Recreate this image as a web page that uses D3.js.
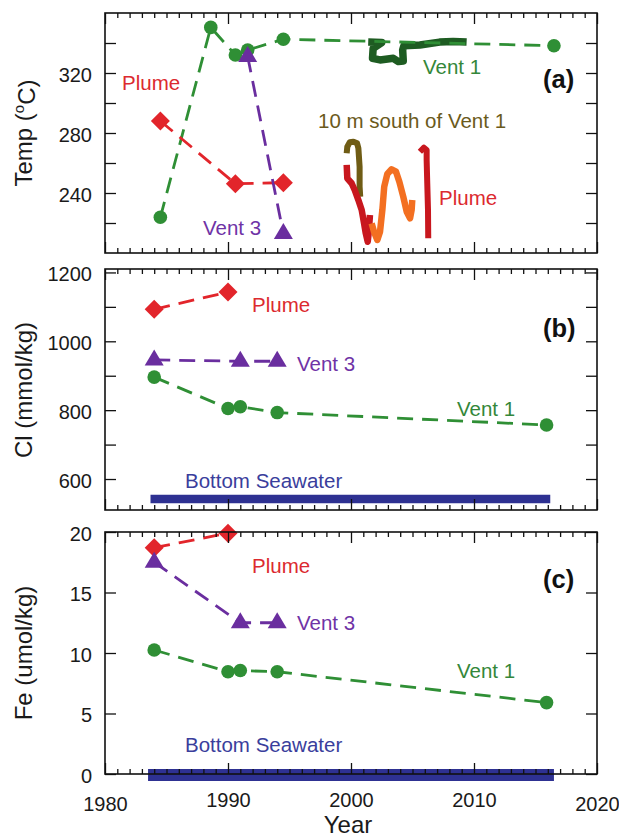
<!DOCTYPE html>
<html><head><meta charset="utf-8">
<script src="https://cdn.jsdelivr.net/npm/d3@7"></script>
<style>
body{margin:0;background:#fff}
svg{display:block}
text{font-family:"Liberation Sans",Arial,sans-serif}
</style>
</head><body>
<svg id="chart" width="619" height="838"></svg>
<script>
// ---------------- DATA ----------------
// Panel (a) Temperature, discrete samples
const tempVent1Years = [1984.5, 1988.6, 1990.6, 1991.6, 1994.5, 2016.5];
const tempVent1 = [223.8, 350.4, 332.0, 335.3, 342.5, 338.2];
const tempPlumeYears = [1984.5, 1990.6, 1994.5];
const tempPlume = [288.0, 246.2, 246.9];
const tempVent3Years = [1991.6, 1994.5];
const tempVent3 = [331, 213];
// Panel (a) continuous records [year, temp]
const recVent1 = [[2001.4,340.6],[2002.5,340.3],[2001.8,336.4],[2001.75,329.8],[2002.36,328.7],[2003.44,329.8],[2003.85,327.6],[2004.25,328],[2004.2,335.3],[2004.3,338.2],[2005.6,338.7],[2007.2,340.6],[2008.3,341.0],[2009.4,340.6]];
const recSouth = [[1999.65,266.5],[1999.7,270.9],[1999.9,273.8],[2000.2,274.2],[2000.5,273.1],[2000.6,269.8],[2000.7,257.5],[2000.7,244.2],[2000.75,237.5]];
const recPlume1 = [[1999.65,258.7],[1999.7,249.8],[2000.05,246.5],[2000.3,242],[2000.6,235.3],[2000.87,228.7],[2001.06,219.8],[2001.2,213.1],[2001.36,207.5],[2001.46,215.3],[2001.54,225.3]];
const recOrange = [[2001.68,219.8],[2001.87,214.2],[2002.14,208.7],[2002.36,214.2],[2002.55,228.7],[2002.7,244.2],[2002.95,252.7],[2003.3,255.8],[2003.66,254.2],[2003.93,247.5],[2004.25,237.5],[2004.53,227.5],[2004.8,223.1],[2004.93,228.7],[2004.98,235.3]];
const recPlume2 = [[2005.6,267.5],[2005.93,270.2],[2006.15,268.7],[2006.15,262],[2006.2,246.5],[2006.26,228.7],[2006.28,209.8]];
// Panel (b) Cl
const clVent1Years = [1984.0, 1990.0, 1991.0, 1994.0, 2015.9];
const clVent1 = [896, 805, 810, 793, 757];
const clPlumeYears = [1984.0, 1990.0];
const clPlume = [1093, 1143];
const clVent3Years = [1984.0, 1991.0, 1994.0];
const clVent3 = [946, 942, 942];
const clSeawaterYears = [1983.7, 2016.2];
const clSeawater = 542;
// Panel (c) Fe
const feVent1Years = [1984.0, 1990.0, 1991.0, 1994.0, 2015.9];
const feVent1 = [10.25, 8.45, 8.55, 8.45, 5.9];
const fePlumeYears = [1984.0, 1990.0];
const fePlume = [18.7, 19.9];
const feVent3Years = [1984.0, 1991.0, 1994.0];
const feVent3 = [17.5, 12.5, 12.5];
const feSeawaterYears = [1983.5, 2016.5];
const feSeawater = 0;
// ticks
const yearMajorTicks = [1980, 1990, 2000, 2010, 2020];
const tempTicks = [220, 240, 260, 280, 300, 320, 340];
const tempLabels = [240, 280, 320];
const clTicks = [600, 700, 800, 900, 1000, 1100, 1200];
const clLabels = [600, 800, 1000, 1200];
const feTicks = [0, 5, 10, 15, 20];
const feLabels = [0, 5, 10, 15, 20];

// ---------------- STYLE ----------------
const C = {
  green: "#2f8f35", darkGreen: "#1e5c22", red: "#e2252b", redRec: "#c8171e",
  orange: "#f36f21", olive: "#6f5c15", purple: "#6a2e9f", navy: "#2e3192",
  greenText: "#34873a", redText: "#dc2a2f", purpleText: "#6f33a6", navyText: "#3a3e9c", oliveText: "#6b5a1c"
};
const LBL = 20.5;

const svg = d3.select("#chart");
const x = d3.scaleLinear().domain([1980, 2020]).range([105, 597]);
const panels = {
  a: {top: 13, bottom: 253, domain: [200, 360]},
  b: {top: 269, bottom: 510, domain: [510, 1210]},
  c: {top: 532, bottom: 774, domain: [0, 20]}
};
for (const k in panels) {
  const p = panels[k];
  p.y = d3.scaleLinear().domain(p.domain).range([p.bottom, p.top]);
}

const dash = "16,9";
function dashedLine(g, xs, ys, y, color) {
  const line = d3.line().x(d => x(d[0])).y(d => y(d[1]));
  g.append("path").datum(xs.map((v, i) => [v, ys[i]]))
    .attr("d", line).attr("fill", "none").attr("stroke", color)
    .attr("stroke-width", 2.8).attr("stroke-dasharray", dash);
}
function recLine(g, data, y, color, w) {
  const line = d3.line().x(d => x(d[0])).y(d => y(d[1]));
  g.append("path").datum(data).attr("d", line).attr("fill", "none")
    .attr("stroke", color).attr("stroke-width", w || 6)
    .attr("stroke-linejoin", "round").attr("stroke-linecap", "butt");
}
function circles(g, xs, ys, y, color) {
  g.selectAll(null).data(xs.map((v, i) => [v, ys[i]])).join("circle")
    .attr("cx", d => x(d[0])).attr("cy", d => y(d[1])).attr("r", 6.8).attr("fill", color);
}
function diamonds(g, xs, ys, y, color) {
  g.selectAll(null).data(xs.map((v, i) => [v, ys[i]])).join("path")
    .attr("transform", d => `translate(${x(d[0])},${y(d[1])})`)
    .attr("d", "M0,-9.5L9.5,0L0,9.5L-9.5,0Z").attr("fill", color);
}
function triangles(g, xs, ys, y, color) {
  g.selectAll(null).data(xs.map((v, i) => [v, ys[i]])).join("path")
    .attr("transform", d => `translate(${x(d[0])},${y(d[1])})`)
    .attr("d", "M0,-10.5L9.5,5.5L-9.5,5.5Z").attr("fill", color);
}
function label(g, txt, tx, ty, color, size, weight) {
  g.append("text").attr("x", tx).attr("y", ty).attr("fill", color)
    .attr("font-size", size).attr("font-weight", weight || "normal").text(txt);
}

function axes(p, ticks, labels, showYears) {
  const g = svg.append("g");
  const minor = d3.range(1981, 2020).filter(v => v % 10 !== 0);
  g.append("g").attr("transform", `translate(0,${p.bottom})`)
    .call(d3.axisBottom(x).tickValues(minor).tickSize(-5).tickFormat(""));
  const bMajor = g.append("g").attr("transform", `translate(0,${p.bottom})`)
    .call(d3.axisBottom(x).tickValues(yearMajorTicks).tickSize(-11).tickPadding(18)
      .tickFormat(showYears ? d3.format("d") : ""));
  g.append("g").attr("transform", `translate(0,${p.top})`)
    .call(d3.axisTop(x).tickValues(minor).tickSize(-5).tickFormat(""));
  g.append("g").attr("transform", `translate(0,${p.top})`)
    .call(d3.axisTop(x).tickValues(yearMajorTicks).tickSize(-11).tickFormat(""));
  g.append("g").attr("transform", `translate(105,0)`)
    .call(d3.axisLeft(p.y).tickValues(ticks).tickSize(-11).tickPadding(13)
      .tickFormat(d => labels.includes(d) ? d : ""));
  g.append("g").attr("transform", `translate(597,0)`)
    .call(d3.axisRight(p.y).tickValues(ticks).tickSize(-11).tickFormat(""));
  g.selectAll(".domain").remove();
  g.selectAll(".tick line").attr("stroke", "#111").attr("stroke-width", 1.3);
  g.selectAll(".tick text").attr("fill", "#1a1a1a").attr("font-size", 20)
    .attr("dy", "0.42em")
    .attr("font-family", '"Liberation Sans",Arial,sans-serif');
  if (showYears) {
    bMajor.selectAll(".tick text")
      .attr("dy", d => (d === 1980 || d === 2020) ? "0.95em" : "0.75em");
  }
  g.append("rect").attr("x", 105).attr("y", p.top).attr("width", 492)
    .attr("height", p.bottom - p.top).attr("fill", "none")
    .attr("stroke", "#111").attr("stroke-width", 1.6);
  return g;
}

// ---------------- PANEL (a) ----------------
{
  const p = panels.a, y = p.y, g = svg.append("g");
  recLine(g, recSouth, y, C.olive, 6);
  recLine(g, recPlume1, y, C.redRec, 6.5);
  recLine(g, recOrange, y, C.orange, 6.5);
  recLine(g, recPlume2, y, C.redRec, 6);
  recLine(g, recVent1, y, C.darkGreen, 7.5);
  dashedLine(g, tempVent1Years, tempVent1, y, C.green);
  dashedLine(g, tempPlumeYears, tempPlume, y, C.red);
  dashedLine(g, tempVent3Years, tempVent3, y, C.purple);
  circles(g, tempVent1Years, tempVent1, y, C.green);
  diamonds(g, tempPlumeYears, tempPlume, y, C.red);
  triangles(g, tempVent3Years, tempVent3, y, C.purple);
  label(g, "Plume", 122, 90, C.redText, LBL);
  label(g, "Vent 1", 423, 74, C.greenText, LBL);
  label(g, "10 m south of Vent 1", 318, 128, C.oliveText, LBL);
  label(g, "Plume", 439, 205, C.redText, LBL);
  label(g, "Vent 3", 203, 235, C.purpleText, LBL);
  label(g, "(a)", 543, 88, "#111", 25.5, "bold");
  axes(p, tempTicks, tempLabels, false);
}
// ---------------- PANEL (b) ----------------
{
  const p = panels.b, y = p.y, g = svg.append("g");
  g.append("line").attr("x1", x(clSeawaterYears[0])).attr("x2", x(clSeawaterYears[1]))
    .attr("y1", y(clSeawater)).attr("y2", y(clSeawater))
    .attr("stroke", C.navy).attr("stroke-width", 8.5);
  dashedLine(g, clVent1Years, clVent1, y, C.green);
  dashedLine(g, clPlumeYears, clPlume, y, C.red);
  dashedLine(g, clVent3Years, clVent3, y, C.purple);
  circles(g, clVent1Years, clVent1, y, C.green);
  diamonds(g, clPlumeYears, clPlume, y, C.red);
  triangles(g, clVent3Years, clVent3, y, C.purple);
  label(g, "Plume", 252, 312, C.redText, LBL);
  label(g, "Vent 3", 297, 371, C.purpleText, LBL);
  label(g, "Vent 1", 457, 416, C.greenText, LBL);
  label(g, "Bottom Seawater", 185, 488, C.navyText, LBL);
  label(g, "(b)", 543, 337, "#111", 25.5, "bold");
  axes(p, clTicks, clLabels, false);
}
// ---------------- PANEL (c) ----------------
{
  const p = panels.c, y = p.y, g = svg.append("g");
  g.append("line").attr("x1", x(feSeawaterYears[0])).attr("x2", x(feSeawaterYears[1]))
    .attr("y1", y(feSeawater) + 1).attr("y2", y(feSeawater) + 1)
    .attr("stroke", C.navy).attr("stroke-width", 12);
  dashedLine(g, feVent1Years, feVent1, y, C.green);
  dashedLine(g, fePlumeYears, fePlume, y, C.red);
  dashedLine(g, feVent3Years, feVent3, y, C.purple);
  circles(g, feVent1Years, feVent1, y, C.green);
  diamonds(g, fePlumeYears, fePlume, y, C.red);
  triangles(g, feVent3Years, feVent3, y, C.purple);
  label(g, "Plume", 252, 573, C.redText, LBL);
  label(g, "Vent 3", 297, 630, C.purpleText, LBL);
  label(g, "Vent 1", 457, 678, C.greenText, LBL);
  label(g, "Bottom Seawater", 185, 752, C.navyText, LBL);
  label(g, "(c)", 543, 588, "#111", 25.5, "bold");
  axes(p, feTicks, feLabels, true);
}

// ---------------- AXIS TITLES ----------------
function yTitle(cy, build) {
  const t = svg.append("text").attr("transform", `translate(24,${cy}) rotate(-90)`)
    .attr("text-anchor", "middle").attr("dy", "0.35em")
    .attr("font-size", 24).attr("fill", "#1a1a1a");
  build(t);
}
yTitle(133, t => {
  t.append("tspan").text("Temp (");
  t.append("tspan").attr("font-size", 15).attr("dy", "-0.55em").text("o");
  t.append("tspan").attr("dy", "0.45em").text("C)");
});
yTitle(390, t => t.text("Cl (mmol/kg)"));
yTitle(653, t => t.text("Fe (umol/kg)"));
svg.append("text").attr("x", 348).attr("y", 833).attr("text-anchor", "middle")
  .attr("font-size", 24).attr("fill", "#1a1a1a").text("Year");
</script>
</body></html>
